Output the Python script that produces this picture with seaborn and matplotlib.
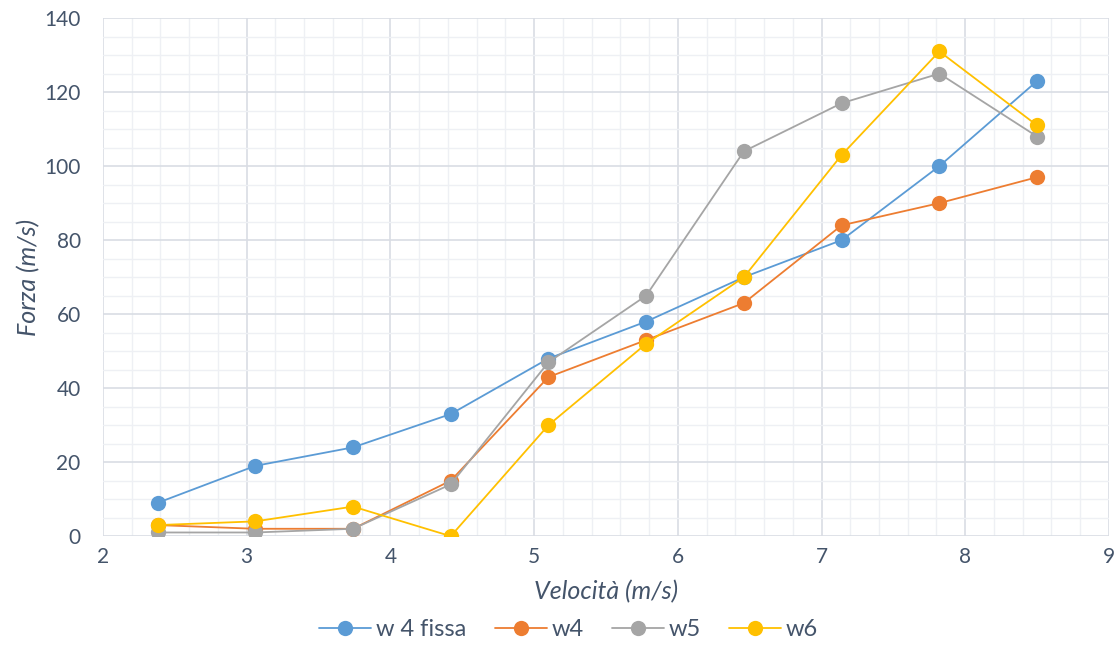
import pandas as pd
import matplotlib.pyplot as plt
import seaborn as sns
from matplotlib.ticker import MultipleLocator

velocita = [2.38, 3.06, 3.74, 4.42, 5.10, 5.78, 6.46, 7.14, 7.82, 8.50]
w4_fissa = [9, 19, 24, 33, 48, 58, 70, 80, 100, 123]
w4 = [3, 2, 2, 15, 43, 53, 63, 84, 90, 97]
w5 = [1, 1, 2, 14, 47, 65, 104, 117, 125, 108]
w6 = [3, 4, 8, 0, 30, 52, 70, 103, 131, 111]
series_names = ['w 4 fissa', 'w4', 'w5', 'w6']
colours = ['#5B9BD5', '#ED7D31', '#A5A5A5', '#FFC000']

text_col = '#44546A'


def build_df():
    frames = []
    for name, vals in zip(series_names, [w4_fissa, w4, w5, w6]):
        frames.append(pd.DataFrame({'Velocita': velocita, 'Forza': vals, 'Serie': name}))
    return pd.concat(frames, ignore_index=True)


def plot_chart(df, output_file_path):
    sns.set_style('white')
    plt.rcParams['font.family'] = ['Lato', 'DejaVu Sans']
    fig = plt.figure(figsize=(11.19, 6.46), dpi=100)
    ax = fig.add_axes([0.092, 0.170, 0.899, 0.802])
    sns.lineplot(data=df, x='Velocita', y='Forza', hue='Serie', hue_order=series_names,
                 palette=colours, marker='o', markersize=11, markeredgewidth=0,
                 linewidth=1.3, sort=False, ax=ax, zorder=3)
    ax.set_xlim(2, 9)
    ax.set_ylim(0, 140)
    ax.xaxis.set_major_locator(MultipleLocator(1))
    ax.xaxis.set_minor_locator(MultipleLocator(0.2))
    ax.yaxis.set_major_locator(MultipleLocator(20))
    ax.yaxis.set_minor_locator(MultipleLocator(5))
    ax.grid(which='major', color='#D9DDE4', linewidth=1.2, zorder=0)
    ax.grid(which='minor', color='#EEF0F4', linewidth=1.0, zorder=0)
    ax.set_axisbelow(True)
    for s in ax.spines.values():
        s.set_visible(False)
    ax.tick_params(which='both', length=0, labelsize=15, labelcolor=text_col)
    ax.tick_params(axis='x', pad=8)
    ax.tick_params(axis='y', pad=16)
    ax.set_xlabel('Velocità (m/s)', fontsize=18, style='italic', color=text_col, labelpad=9)
    ax.set_ylabel('Forza (m/s)', fontsize=18, style='italic', color=text_col, labelpad=3)
    handles, labels = ax.get_legend_handles_labels()
    ax.legend(handles=handles, labels=labels, loc='center', bbox_to_anchor=(0.463, -0.181),
              ncol=4, frameon=False, fontsize=17, handlelength=2.2, columnspacing=1.2,
              handletextpad=0.2, labelcolor=text_col)
    plt.savefig(output_file_path, dpi=100)
    plt.close()


if __name__ == "__main__":
    df = build_df()
    plot_chart(df, "out.png")
